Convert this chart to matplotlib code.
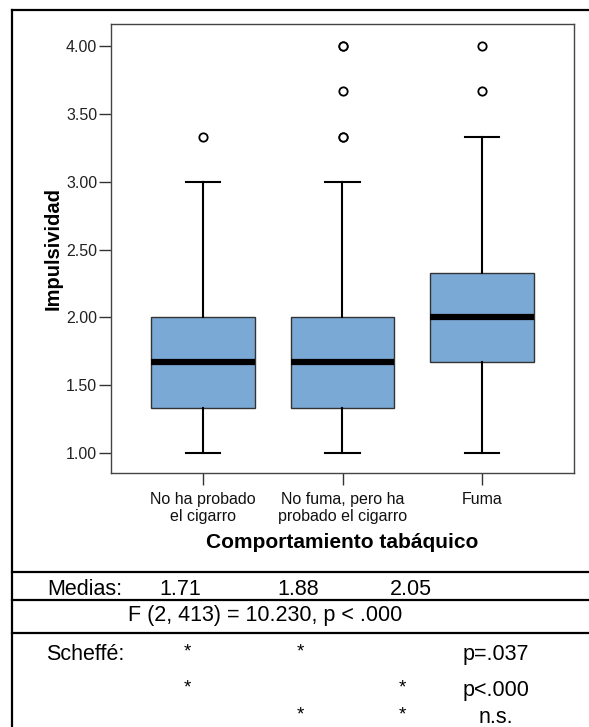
import matplotlib.pyplot as plt
from matplotlib.lines import Line2D

plt.rcParams['font.family'] = ['Liberation Sans', 'DejaVu Sans']

# datos del boxplot
grupos = ['No ha probado\nel cigarro', 'No fuma, pero ha\nprobado el cigarro', 'Fuma']
q1 = [1.33, 1.33, 1.67]
mediana = [1.67, 1.67, 2.00]
q3 = [2.00, 2.00, 2.33]
bigote_inf = [1.00, 1.00, 1.00]
bigote_sup = [3.00, 3.00, 3.33]
atipicos = [[3.33], [3.33, 3.33, 3.67, 4.00, 4.00], [3.67, 4.00]]

# tabla inferior
medias = ['1.71', '1.88', '2.05']
prueba_f = 'F (2, 413) = 10.230, p < .000'
scheffe_p = ['p=.037', 'p<.000', 'n.s.']
scheffe_marcas = [[0, 1], [0, 2], [1, 2]]  # grupos con asterisco en cada fila

W, H = 589, 727
fig = plt.figure(figsize=(W / 100, H / 100), dpi=100)

ax = fig.add_axes([111 / W, 1 - 473 / H, (574 - 111) / W, (473 - 24) / H])
stats = []
for i in range(3):
    stats.append(dict(q1=q1[i], med=mediana[i], q3=q3[i], whislo=bigote_inf[i],
                      whishi=bigote_sup[i], fliers=atipicos[i], label=grupos[i]))
ax.bxp(stats, positions=[1, 2, 3], widths=0.74, capwidths=0.25, patch_artist=True,
       boxprops=dict(facecolor='#7BA9D6', edgecolor='#333333', linewidth=1.0),
       medianprops=dict(color='black', linewidth=4.5, solid_capstyle='butt'),
       whiskerprops=dict(color='black', linewidth=1.5),
       capprops=dict(color='black', linewidth=1.5),
       flierprops=dict(marker='o', markerfacecolor='white', markeredgecolor='black',
                       markersize=6, markeredgewidth=1.3))

ax.set_xlim(0.34, 3.66)
ax.set_ylim(0.853, 4.162)
ax.set_yticks([1.0, 1.5, 2.0, 2.5, 3.0, 3.5, 4.0])
ax.set_yticklabels(['%.2f' % v for v in ax.get_yticks()])
ax.tick_params(axis='y', length=8.5, width=1, color='#333333', pad=1.5, labelsize=11.5,
               labelcolor='#222222')
ax.tick_params(axis='x', length=8.5, width=1, color='#333333', pad=5.5, labelsize=11.5,
               labelcolor='#111111')
for lab in ax.get_xticklabels():
    lab.set_linespacing(1.1)
for s in ax.spines.values():
    s.set_color('#444444')
    s.set_linewidth(1.0)

ax.set_ylabel('Impulsividad', fontsize=14.5, fontweight='bold', labelpad=2)
ax.set_xlabel('Comportamiento tabáquico', fontsize=15, fontweight='bold', labelpad=7)

# capa en pixeles para el marco y la tabla
tab = fig.add_axes([0, 0, 1, 1], facecolor='none')
tab.set_xlim(0, W)
tab.set_ylim(H, 0)
tab.axis('off')

tab.add_line(Line2D([12, W], [10, 10], color='black', linewidth=1.6))
tab.add_line(Line2D([12, 12], [10, H], color='black', linewidth=1.6))
for yl in [572, 600, 633]:
    tab.add_line(Line2D([12, W], [yl, yl], color='black', linewidth=1.6))

fs = 15.5
col_medias = [180, 298, 411]
col_marcas = [187, 300, 402]
tab.text(85, 595, 'Medias:', fontsize=fs, ha='center', va='baseline')
for x, m in zip(col_medias, medias):
    tab.text(x, 595, m, fontsize=fs, ha='center', va='baseline')
tab.text(265, 621, prueba_f, fontsize=fs, ha='center', va='baseline')
tab.text(85, 660, 'Scheffé:', fontsize=fs, ha='center', va='baseline')

filas_y = [660, 696, 723]
for yb, marcas, p in zip(filas_y, scheffe_marcas, scheffe_p):
    for g in marcas:
        tab.text(col_marcas[g], yb - 4, '*', fontsize=fs - 2, ha='center', va='baseline')
    tab.text(496, yb, p, fontsize=fs, ha='center', va='baseline')

fig.savefig('out.png', dpi=100)
